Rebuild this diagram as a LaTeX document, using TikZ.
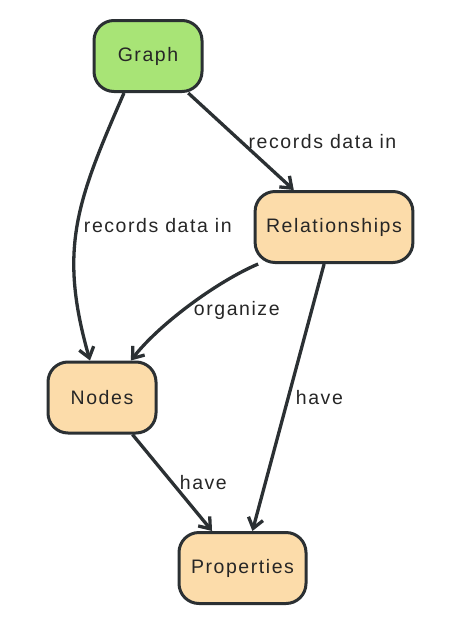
\documentclass[tikz,border=0pt]{standalone}
\usepackage{fontspec}
\setmainfont{Liberation Sans}[LetterSpace=8]
\usetikzlibrary{shapes, arrows.meta}
\definecolor{rootgreen}{HTML}{A8E476}
\definecolor{entityorange}{HTML}{FCDCAA}
\definecolor{linegray}{HTML}{2B3033}
\definecolor{textgray}{HTML}{262626}
\tikzstyle{entity} = [rectangle, rounded corners=20pt, minimum width=108pt, minimum height=71pt, inner xsep=11pt, text centered, line width=3pt, draw=linegray, text=textgray, fill=entityorange, font=\fontsize{19.5}{23}\selectfont]
\tikzstyle{rootbox} = [entity, fill=rootgreen]
\tikzstyle{edge} = [line width=3.3pt, draw=linegray, -{Straight Barb[length=10pt, width=15pt]}]
\tikzstyle{tag} = [text=textgray, inner xsep=6pt, font=\fontsize{19.5}{23}\selectfont]

\begin{document}
\begin{tikzpicture}[x=1pt, y=-1pt]
\useasboundingbox (0,0) rectangle (466,627);

\node (graph) [rootbox] at (148,56) {Graph};
\node (rel) [entity] at (334,227) {Relationships};
\node (nodes) [entity] at (102,397.5) {Nodes};
\node (props) [entity, minimum width=127pt] at (242.5,568) {Properties};

\draw [edge] (graph.237) .. controls +(-47,108) and +(-32,-112) .. node[tag, right, xshift=-1pt]{records data in} (nodes.108);
\draw [edge] (graph) -- node[tag, right]{records data in} (rel);
\draw [edge] (rel.206) .. controls +(-42,18) and +(28,-36) .. node[tag, right, xshift=-3pt, yshift=-5pt]{organize} (nodes.52);
\draw [edge] (rel) -- node[tag, right]{have} (props);
\draw [edge] (nodes) -- node[tag, right]{have} (props);

\end{tikzpicture}
\end{document}
